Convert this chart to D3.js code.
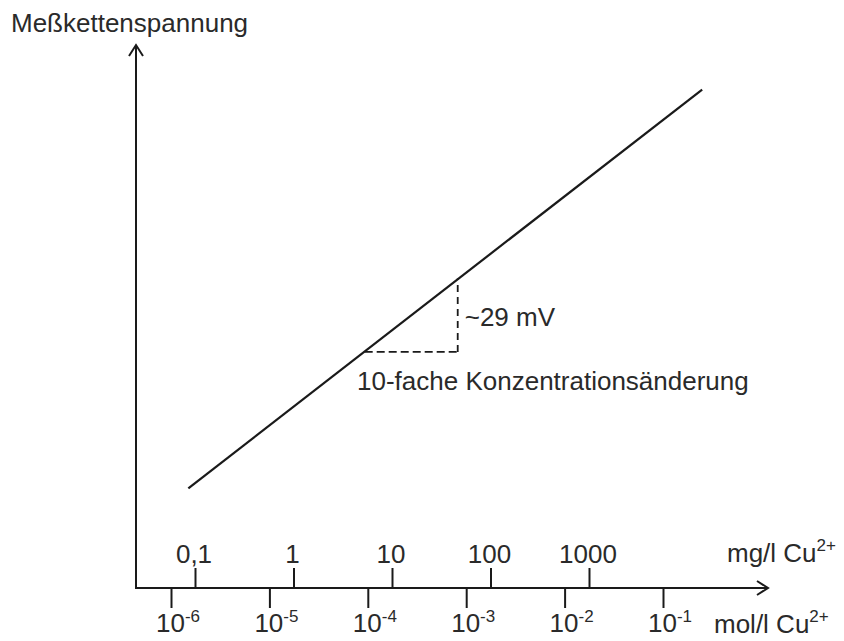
<!DOCTYPE html>
<html>
<head>
<meta charset="utf-8">
<script src="https://cdn.jsdelivr.net/npm/d3@7"></script>
<style>
  html, body { margin: 0; padding: 0; background: #fff; }
  svg { display: block; font-family: "Liberation Sans", Arial, sans-serif; }
</style>
</head>
<body>
<svg id="chart" width="844" height="641"></svg>
<script>
// ---- data ----
const molTicks = [1e-6, 1e-5, 1e-4, 1e-3, 1e-2, 1e-1];
const molExponents = ["-6", "-5", "-4", "-3", "-2", "-1"];
const mgTicks = [0.1, 1, 10, 100, 1000];
const mgLabels = ["0,1", "1", "10", "100", "1000"];
const lineConc = [1.5e-6, 0.25];        // mol/l Cu2+
const lineMv = [38, 190];               // Meßkettenspannung (mV, relative)
const triConc = [9.3e-5, 8.2e-4];       // 10-fold change
const triMv = [90, 118];                // ~29 mV step
const yTitle = "Meßkettenspannung";
const molUnit = "mol/l Cu";
const mgUnit = "mg/l Cu";
const stepLabel = "~29 mV";
const changeLabel = "10-fache Konzentrationsänderung";

// ---- layout ----
const svg = d3.select("#chart");
const originX = 136, originY = 588, axisTop = 45, axisRight = 768;
const x = d3.scaleLog().domain([1e-6, 1e-1]).range([171, 663]);
const xMg = d3.scaleLog().domain([0.1, 1000]).range([195, 589]);
const y = d3.scaleLinear().domain([0, 207]).range([originY, axisTop]);
const ink = "#1a1a1a", txt = "#2a2a2a";
const fs = 26, sup = 17;

// axes
svg.append("line").attr("x1", originX).attr("y1", originY).attr("x2", originX).attr("y2", axisTop)
  .attr("stroke", ink).attr("stroke-width", 2);
svg.append("line").attr("x1", originX - 1).attr("y1", originY).attr("x2", axisRight).attr("y2", originY)
  .attr("stroke", ink).attr("stroke-width", 2);
// arrowheads
svg.append("path").attr("d", `M${originX - 7},${axisTop + 11}L${originX},${axisTop}L${originX + 7},${axisTop + 11}`)
  .attr("fill", "none").attr("stroke", ink).attr("stroke-width", 2);
svg.append("path").attr("d", `M${axisRight - 11},${originY - 7}L${axisRight},${originY}L${axisRight - 11},${originY + 7}`)
  .attr("fill", "none").attr("stroke", ink).attr("stroke-width", 2);

// mol ticks (below)
const molG = svg.append("g").attr("transform", `translate(0,${originY})`)
  .call(d3.axisBottom(x).tickValues(molTicks).tickSize(20).tickFormat(""));
molG.select(".domain").remove();
molG.selectAll(".tick line").attr("stroke", ink).attr("stroke-width", 2);

const molLab = svg.append("g").attr("fill", txt).attr("font-size", fs);
molTicks.forEach((v, i) => {
  const t = molLab.append("text").attr("x", x(v) - 15).attr("y", 632);
  t.append("tspan").text("10");
  t.append("tspan").attr("font-size", sup).attr("dy", -10).text(molExponents[i]);
});
const mu = svg.append("text").attr("x", 714).attr("y", 633).attr("fill", txt).attr("font-size", fs);
mu.append("tspan").text(molUnit);
mu.append("tspan").attr("font-size", sup).attr("dy", -11).text("2+");

// mg ticks (above)
const mgG = svg.append("g").attr("transform", `translate(0,${originY})`)
  .call(d3.axisTop(xMg).tickValues(mgTicks).tickSize(20).tickFormat(""));
mgG.select(".domain").remove();
mgG.selectAll(".tick line").attr("stroke", ink).attr("stroke-width", 2);
svg.append("g").selectAll("text").data(mgTicks).join("text")
  .attr("x", d => xMg(d) - 1).attr("y", 563).attr("text-anchor", "middle")
  .attr("fill", txt).attr("font-size", fs).text((d, i) => mgLabels[i]);
const gu = svg.append("text").attr("x", 727).attr("y", 562).attr("fill", txt).attr("font-size", fs);
gu.append("tspan").text(mgUnit);
gu.append("tspan").attr("font-size", sup).attr("dy", -11).text("2+");

// y title
svg.append("text").attr("x", 11).attr("y", 32).attr("fill", txt).attr("font-size", fs).text(yTitle);

// main line
const pts = lineConc.map((c, i) => [c, lineMv[i]]);
svg.append("path").datum(pts)
  .attr("d", d3.line().x(d => x(d[0])).y(d => y(d[1])))
  .attr("fill", "none").attr("stroke", ink).attr("stroke-width", 2.2);

// triangle
svg.append("line").attr("x1", x(triConc[0])).attr("y1", y(triMv[0])).attr("x2", x(triConc[1])).attr("y2", y(triMv[0]))
  .attr("stroke", ink).attr("stroke-width", 1.8).attr("stroke-dasharray", "8,4");
svg.append("line").attr("x1", x(triConc[1])).attr("y1", y(triMv[0])).attr("x2", x(triConc[1])).attr("y2", y(triMv[1]))
  .attr("stroke", ink).attr("stroke-width", 1.8).attr("stroke-dasharray", "7,5");

svg.append("text").attr("x", x(triConc[1]) + 7).attr("y", 326).attr("fill", txt).attr("font-size", fs).text(stepLabel);
svg.append("text").attr("x", 357).attr("y", 390).attr("fill", txt).attr("font-size", fs).text(changeLabel);
</script>
</body>
</html>
